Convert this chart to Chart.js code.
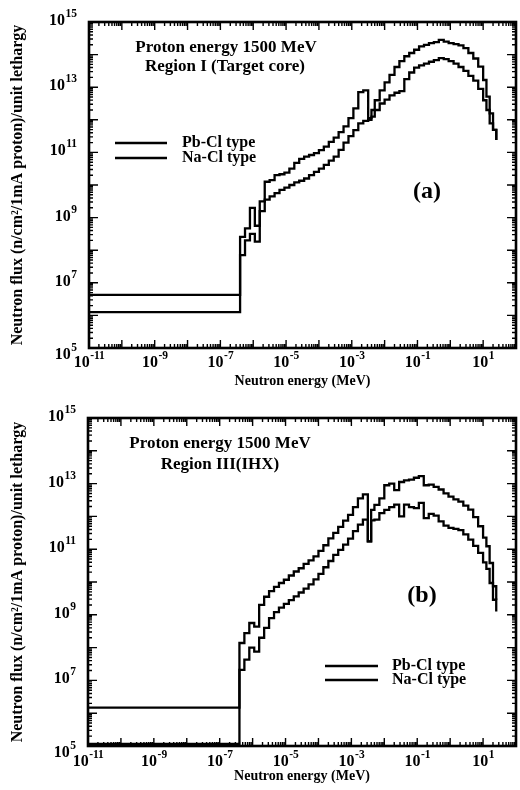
<!DOCTYPE html>
<html><head><meta charset="utf-8">
<script src="https://cdn.jsdelivr.net/npm/chart.js@4.4.0/dist/chart.umd.min.js"></script>
<style>
html,body{margin:0;padding:0;background:#fff;}
.wrap{position:relative;width:520px;height:395px;}
canvas{display:block;}
</style></head><body>
<div class="wrap"><canvas id="ca" width="520" height="395"></canvas></div>
<div class="wrap"><canvas id="cb" width="520" height="395"></canvas></div>
<script>
// ---------- data ----------
const energyMeV = [1e-11, 3.98e-7, 5.62e-7, 7.94e-7, 1.12e-6, 1.58e-6, 2.24e-6, 3.16e-6, 4.47e-6, 6.31e-6,
  8.91e-6, 1.26e-5, 1.78e-5, 2.51e-5, 3.55e-5, 5.01e-5, 7.08e-5, 1.0e-4, 1.41e-4, 2.0e-4,
  2.82e-4, 3.98e-4, 5.62e-4, 7.94e-4, 1.12e-3, 1.58e-3, 2.24e-3, 3.16e-3, 3.98e-3, 5.01e-3,
  7.08e-3, 1.0e-2, 1.41e-2, 2.0e-2, 2.82e-2, 3.98e-2, 5.62e-2, 7.94e-2, 0.112, 0.158,
  0.224, 0.316, 0.447, 0.631, 0.891, 1.26, 1.78, 2.51, 3.55, 5.01,
  7.08, 10.0, 12.6, 15.8, 20.0, 25.1];

// Region I (Target core)
const fluxA_PbCl = [4.27e6, 2.57e8, 4.68e8, 2.0e9, 5.62e8, 3.16e9, 1.26e10, 1.41e10, 2.0e10, 2.14e10,
  2.40e10, 3.16e10, 4.79e10, 6.31e10, 7.41e10, 8.32e10, 9.55e10, 1.17e11, 1.51e11, 2.09e11,
  2.82e11, 4.17e11, 6.31e11, 1.12e12, 2.24e12, 7.08e12, 7.94e12, 1.12e12, 2.0e12, 3.98e12,
  7.94e12, 1.41e13, 2.40e13, 4.17e13, 6.31e13, 8.91e13, 1.12e14, 1.41e14, 1.78e14, 2.0e14,
  2.24e14, 2.40e14, 2.82e14, 2.51e14, 2.24e14, 2.09e14, 1.91e14, 1.58e14, 1.12e14, 7.59e13,
  4.27e13, 1.66e13, 5.13e12, 1.58e12, 4.90e11, 2.40e11];
const fluxA_NaCl = [1.26e6, 7.08e7, 2.0e8, 3.16e8, 1.82e8, 1.58e9, 3.55e9, 4.47e9, 5.62e9, 7.08e9,
  8.32e9, 1.0e10, 1.20e10, 1.35e10, 1.58e10, 2.0e10, 2.51e10, 3.16e10, 4.17e10, 5.62e10,
  7.41e10, 1.20e11, 2.0e11, 3.16e11, 4.79e11, 7.76e11, 9.33e11, 1.0e12, 1.26e12, 2.0e12,
  3.16e12, 4.17e12, 5.62e12, 6.76e12, 7.59e12, 1.78e13, 2.82e13, 3.98e13, 4.68e13, 5.25e13,
  6.03e13, 6.76e13, 7.76e13, 7.24e13, 6.31e13, 5.25e13, 4.17e13, 3.16e13, 2.24e13, 1.58e13,
  8.91e12, 3.98e12, 2.0e12, 7.76e11, 4.90e11, 2.40e11];

// Region III (IHX)
const fluxB_PbCl = [1.48e6, 1.38e8, 2.75e8, 5.62e8, 4.37e8, 2.0e9, 3.55e9, 5.25e9, 7.08e9, 9.33e9,
  1.17e10, 1.58e10, 2.09e10, 2.63e10, 3.55e10, 4.57e10, 6.03e10, 8.91e10, 1.32e11, 2.14e11,
  3.16e11, 4.79e11, 7.41e11, 1.12e12, 1.91e12, 3.55e12, 4.68e12, 1.74e11, 1.58e12, 2.24e12,
  3.55e12, 8.91e12, 1.0e13, 6.31e12, 1.12e13, 1.26e13, 1.32e13, 1.51e13, 1.70e13, 8.91e12,
  9.33e12, 7.94e12, 6.61e12, 5.01e12, 3.98e12, 3.31e12, 2.82e12, 2.14e12, 1.62e12, 9.55e11,
  5.01e11, 2.24e11, 1.23e11, 3.80e10, 7.41e9, 2.88e9];
const fluxB_NaCl = [1.15e5, 2.09e7, 4.27e7, 1.0e8, 7.59e7, 2.0e8, 3.98e8, 7.94e8, 1.20e9, 1.66e9,
  2.14e9, 2.82e9, 3.63e9, 4.79e9, 6.31e9, 8.51e9, 1.20e10, 1.78e10, 2.82e10, 4.37e10,
  6.76e10, 9.55e10, 1.38e11, 2.09e11, 3.55e11, 5.62e11, 7.94e11, 1.74e11, 7.59e11, 7.94e11,
  1.26e12, 1.58e12, 1.91e12, 2.29e12, 1.0e12, 2.29e12, 1.91e12, 1.78e12, 2.57e12, 8.91e11,
  1.20e12, 1.05e12, 7.08e11, 5.25e11, 4.47e11, 4.17e11, 3.80e11, 2.82e11, 1.95e11, 1.26e11,
  7.76e10, 3.98e10, 2.51e10, 9.33e9, 2.88e9, 1.26e9];

const seriesNames = ['Pb-Cl type', 'Na-Cl type'];
const xTickValues = [1e-11, 1e-9, 1e-7, 1e-5, 1e-3, 1e-1, 1e1];
const xTickExponents = ['-11', '-9', '-7', '-5', '-3', '-1', '1'];
const yTickValues = [1e5, 1e7, 1e9, 1e11, 1e13, 1e15];
const yTickExponents = ['5', '7', '9', '11', '13', '15'];
const tickBase = '10';
const xTitle = 'Neutron energy (MeV)';
const yTitle = 'Neutron flux (n/cm²/1mA proton)/unit lethargy';

// ---------- drawing ----------
const SERIF = '"Liberation Serif", "DejaVu Serif", serif';
Chart.defaults.font.family = SERIF;
Chart.defaults.color = '#000';

const frameTicks = {
  id: 'frameTicks',
  afterDatasetsDraw(chart) {
    const {ctx, chartArea: a, scales: {x, y}} = chart;
    ctx.save();
    ctx.strokeStyle = '#000';
    ctx.lineWidth = 1.4;
    ctx.beginPath();
    for (let d = -11; d <= 1; d++) {
      for (let m = 1; m <= 9; m++) {
        const px = x.getPixelForValue(m * Math.pow(10, d));
        if (px < a.left - 0.5 || px > a.right + 0.5) continue;
        const len = m === 1 ? 8 : 4;
        ctx.moveTo(px, a.bottom); ctx.lineTo(px, a.bottom - len);
        ctx.moveTo(px, a.top); ctx.lineTo(px, a.top + len);
      }
    }
    for (let d = 5; d <= 15; d++) {
      for (let m = 1; m <= 9; m++) {
        const py = y.getPixelForValue(m * Math.pow(10, d));
        if (py < a.top - 0.5 || py > a.bottom + 0.5) continue;
        const len = m === 1 ? 9 : 4;
        ctx.moveTo(a.left, py); ctx.lineTo(a.left + len, py);
        ctx.moveTo(a.right, py); ctx.lineTo(a.right - len, py);
      }
    }
    ctx.stroke();
    ctx.lineWidth = 2.6;
    ctx.strokeRect(a.left, a.top, a.right - a.left, a.bottom - a.top);
    ctx.restore();
  }
};

// power-of-ten tick labels: "10" plus a raised exponent
const powerLabels = {
  id: 'powerLabels',
  afterDraw(chart, args, o) {
    const {ctx, chartArea: a, scales: {x, y}} = chart;
    ctx.save();
    ctx.fillStyle = '#000';
    ctx.textBaseline = 'alphabetic';
    ctx.textAlign = 'left';
    const baseFont = 'bold 16px ' + SERIF, supFont = 'bold 11.5px ' + SERIF;
    const measure = (exp) => {
      ctx.font = baseFont; const wb = ctx.measureText(tickBase).width;
      ctx.font = supFont; const ws = ctx.measureText(exp).width;
      return [wb, ws];
    };
    const put = (exp, left, base) => {
      const [wb] = measure(exp);
      ctx.font = baseFont; ctx.fillText(tickBase, left, base);
      ctx.font = supFont; ctx.fillText(exp, left + wb + 0.5, base - 8);
    };
    x.ticks.forEach((t, i) => {
      const exp = xTickExponents[i];
      const [wb, ws] = measure(exp);
      const cx = x.getPixelForValue(t.value);
      put(exp, cx - (wb + ws) / 2, a.bottom + o.xBase);
    });
    y.ticks.forEach((t, i) => {
      const exp = yTickExponents[i];
      const [wb, ws] = measure(exp);
      const py = y.getPixelForValue(t.value);
      const base = i === 0 ? py + o.yBaseLow : py + o.yBase;
      put(exp, a.left - 12 - (wb + ws + 0.5), base);
    });
    ctx.restore();
  }
};

const notes = {
  id: 'notes',
  afterDraw(chart, args, opts) {
    const ctx = chart.ctx;
    ctx.save();
    ctx.fillStyle = '#000';
    ctx.textBaseline = 'middle';
    (opts.texts || []).forEach(t => {
      ctx.font = 'bold ' + t.size + 'px ' + SERIF;
      ctx.textAlign = t.align || 'center';
      ctx.fillText(t.text, t.x, t.y);
    });
    const lg = opts.legend;
    if (lg) {
      chart.data.datasets.forEach((ds, i) => {
        const yy = lg.y + i * lg.gap;
        ctx.strokeStyle = ds.borderColor;
        ctx.lineWidth = 2.4;
        ctx.beginPath();
        ctx.moveTo(lg.x, yy); ctx.lineTo(lg.x + lg.len, yy);
        ctx.stroke();
        ctx.font = 'bold ' + lg.size + 'px ' + SERIF;
        ctx.textAlign = 'left';
        ctx.fillText(ds.label, lg.x + lg.len + lg.textGap, yy);
      });
    }
    ctx.restore();
  }
};

function makeChart(id, pb, na, geom, noteOpts) {
  const toPts = arr => energyMeV.map((e, i) => ({x: e, y: arr[i]}));
  const ds = (label, arr) => ({
    label, data: toPts(arr), stepped: 'before', borderColor: '#000',
    borderWidth: 2.3, pointRadius: 0, fill: false, tension: 0
  });
  return new Chart(document.getElementById(id), {
    type: 'line',
    data: {datasets: [ds(seriesNames[0], pb), ds(seriesNames[1], na)]},
    options: {
      responsive: false, animation: false,
      layout: {padding: {left: 0, right: geom.right, top: geom.top, bottom: 0}},
      plugins: {legend: {display: false}, tooltip: {enabled: false}, notes: noteOpts,
        powerLabels: {xBase: geom.xBase, yBase: 3, yBaseLow: 11}},
      scales: {
        x: {
          type: 'logarithmic', min: 1e-11, max: 1e2,
          afterBuildTicks: s => { s.ticks = xTickValues.map(v => ({value: v})); },
          afterFit: s => { s.height = geom.xh; },
          ticks: {display: false, autoSkip: false},
          grid: {display: false, drawTicks: false}, border: {display: false},
          title: {display: true, text: xTitle, font: {size: 14, weight: 'bold'},
            color: '#000', padding: {top: 0, bottom: geom.xtb}}
        },
        y: {
          type: 'logarithmic', min: 1e5, max: 1e15,
          afterBuildTicks: s => { s.ticks = yTickValues.map(v => ({value: v})); },
          afterFit: s => { s.width = geom.left; },
          ticks: {display: false, autoSkip: false},
          grid: {display: false, drawTicks: false}, border: {display: false},
          title: {display: true, text: yTitle, font: {size: 16, weight: 'bold'},
            color: '#000', padding: {top: 8, bottom: 0}}
        }
      }
    },
    plugins: [frameTicks, powerLabels, notes]
  });
}

makeChart('ca', fluxA_PbCl, fluxA_NaCl,
  {left: 89, right: 4, top: 22, xh: 47, xtb: 5, xBase: 19},
  {texts: [
    {text: 'Proton energy 1500 MeV', x: 226, y: 48, size: 17},
    {text: 'Region I (Target core)', x: 225, y: 67, size: 17},
    {text: '(a)', x: 427, y: 192, size: 24}
  ], legend: {x: 115, y: 143, gap: 15, len: 52, textGap: 15, size: 16}});

makeChart('cb', fluxB_PbCl, fluxB_NaCl,
  {left: 88, right: 4, top: 23, xh: 44, xtb: 5, xBase: 20},
  {texts: [
    {text: 'Proton energy 1500 MeV', x: 220, y: 49, size: 17},
    {text: 'Region III(IHX)', x: 220, y: 70, size: 17},
    {text: '(b)', x: 422, y: 201, size: 24}
  ], legend: {x: 325, y: 271, gap: 14, len: 53, textGap: 14, size: 16}});
</script>
</body></html>
